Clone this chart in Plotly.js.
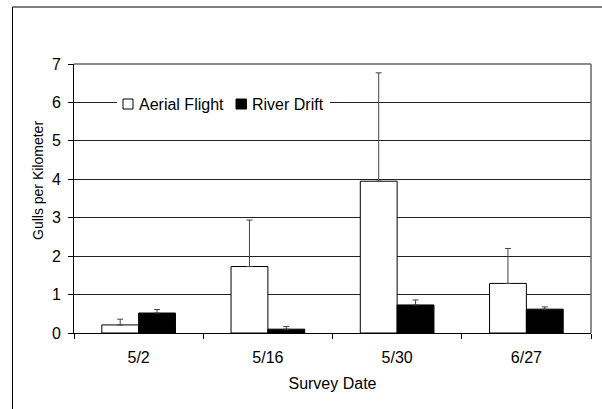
<!DOCTYPE html>
<html>
<head>
<meta charset="utf-8">
<script src="https://cdn.plot.ly/plotly-3.0.1.min.js"></script>
<style>
html,body{margin:0;padding:0;background:#fff;}
#chart{width:602px;height:409px;}
</style>
</head>
<body>
<div id="chart"></div>
<script>
var dates = ["5/2", "5/16", "5/30", "6/27"];
var seriesNames = ["Aerial Flight", "River Drift"];
var aerialValues = [0.21, 1.73, 3.95, 1.29];
var aerialErrPlus = [0.15, 1.21, 2.82, 0.91];
var riverValues = [0.52, 0.10, 0.73, 0.62];
var riverErrPlus = [0.09, 0.07, 0.13, 0.06];
var zeros = [0, 0, 0, 0];
var yTicks = [0, 1, 2, 3, 4, 5, 6, 7];
var xTitle = "Survey Date";
var yTitle = "Gulls per Kilometer";

var FONT = "Liberation Sans, Arial, sans-serif";
var W = 602, H = 409, ML = 74, MR = 11, MT = 64, MB = 76;
var PW = W - ML - MR, PH = H - MT - MB;
function px(x) { return (x - ML) / PW; }
function py(y) { return (H - MB - y) / PH; }

var traces = [
  {
    type: "bar", name: seriesNames[0], x: dates, y: aerialValues,
    marker: {color: "#ffffff", line: {color: "#000000", width: 1}},
    error_y: {type: "data", symmetric: false, array: aerialErrPlus, arrayminus: zeros,
              color: "#444444", thickness: 1, width: 3}
  },
  {
    type: "bar", name: seriesNames[1], x: dates, y: riverValues,
    marker: {color: "#000000", line: {color: "#000000", width: 1}},
    error_y: {type: "data", symmetric: false, array: riverErrPlus, arrayminus: zeros,
              color: "#444444", thickness: 1, width: 3}
  }
];

// manual legend (Excel style) sitting on the 6 gridline
var legendY = 104;
var shapes = [
  // plot box top/right
  {type: "line", xref: "paper", yref: "paper", x0: 0, x1: 1, y0: 1, y1: 1,
   line: {color: "#666666", width: 1.5}},
  {type: "line", xref: "paper", yref: "paper", x0: 1, x1: 1, y0: 0, y1: 1,
   line: {color: "#666666", width: 1.5}},
  // outer frame (left and top)
  {type: "line", xref: "paper", yref: "paper", x0: px(12.5), x1: px(12.5), y0: py(H), y1: py(7),
   line: {color: "#000000", width: 1}},
  {type: "line", xref: "paper", yref: "paper", x0: px(12.5), x1: px(W), y0: py(7), y1: py(7),
   line: {color: "#000000", width: 1}},
  // legend background
  {type: "rect", xref: "paper", yref: "paper", x0: px(117), x1: px(330), y0: py(legendY + 9), y1: py(legendY - 9),
   fillcolor: "#ffffff", line: {width: 0}},
  // legend symbols
  {type: "rect", xref: "paper", yref: "paper", x0: px(123), x1: px(133), y0: py(legendY + 5), y1: py(legendY - 5),
   fillcolor: "#ffffff", line: {color: "#000000", width: 1}},
  {type: "rect", xref: "paper", yref: "paper", x0: px(236), x1: px(246.5), y0: py(legendY + 5), y1: py(legendY - 5),
   fillcolor: "#000000", line: {color: "#000000", width: 1}}
];

var annotations = [
  {xref: "paper", yref: "paper", x: px(137), y: py(legendY), xanchor: "left", yanchor: "middle",
   text: seriesNames[0], showarrow: false, font: {family: FONT, size: 16, color: "#000"}},
  {xref: "paper", yref: "paper", x: px(250), y: py(legendY), xanchor: "left", yanchor: "middle",
   text: seriesNames[1], showarrow: false, font: {family: FONT, size: 16, color: "#000"}},
  {xref: "paper", yref: "paper", x: px(38), y: py(181), xanchor: "center", yanchor: "middle",
   text: yTitle, textangle: -90, showarrow: false, font: {family: FONT, size: 14, color: "#000"}}
];

var layout = {
  width: W, height: H,
  margin: {l: ML, r: MR, t: MT, b: MB, pad: 0},
  paper_bgcolor: "#ffffff", plot_bgcolor: "#ffffff",
  font: {family: FONT, size: 16, color: "#000000"},
  barmode: "group", bargap: 0.43, bargroupgap: 0,
  showlegend: false,
  xaxis: {
    type: "category", showline: true, linecolor: "#000000", linewidth: 1,
    ticks: "outside", ticklen: 5, tickcolor: "#000000", tickson: "boundaries",
    ticklabelstandoff: 10,
    showgrid: false, zeroline: false,
    tickfont: {family: FONT, size: 16},
    title: {text: xTitle, font: {family: FONT, size: 16}, standoff: 12}
  },
  yaxis: {
    range: [0, 7], tickvals: yTicks, ticktext: yTicks.map(String),
    showline: true, linecolor: "#000000", linewidth: 1,
    ticks: "outside", ticklen: 5, tickcolor: "#000000", ticklabelstandoff: 4,
    showgrid: true, gridcolor: "#222222", gridwidth: 1, zeroline: false,
    tickfont: {family: FONT, size: 16}
  },
  shapes: shapes,
  annotations: annotations
};

Plotly.newPlot("chart", traces, layout, {displayModeBar: false, staticPlot: true});
</script>
</body>
</html>
